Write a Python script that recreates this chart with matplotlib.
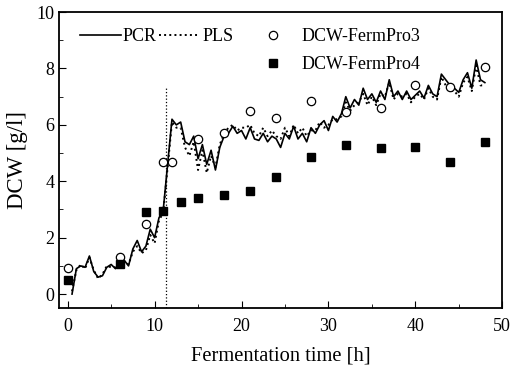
import numpy as np
import matplotlib
matplotlib.use("Agg")
import matplotlib.pyplot as plt
from matplotlib.ticker import MultipleLocator

# model predictions, sampled every 0.5 h
t_model = np.arange(0.5, 48.01, 0.5)
pcr = [0.0, 0.9, 1.0, 0.95, 1.35, 0.8, 0.6, 0.65, 0.95, 1.05,
       0.9, 1.1, 1.2, 1.0, 1.6, 1.9, 1.5, 1.7, 2.3, 2.0,
       2.7, 3.0, 4.6, 6.2, 6.0, 6.1, 5.4, 5.3, 5.6, 4.8,
       5.3, 4.6, 5.1, 4.4, 5.2, 5.6, 5.7, 5.95, 5.7, 5.8,
       5.5, 5.9, 5.5, 5.45, 5.7, 5.4, 5.6, 5.5, 5.2, 5.7,
       5.5, 5.95, 5.5, 5.7, 5.4, 5.9, 5.7, 6.0, 6.15, 5.8,
       6.3, 6.1, 6.4, 7.0, 6.6, 6.9, 6.7, 7.3, 6.9, 7.1,
       6.8, 7.2, 6.9, 7.6, 7.0, 7.2, 6.9, 7.2, 6.9, 7.05,
       7.2, 6.95, 7.4, 7.1, 7.0, 7.8, 7.6, 7.4, 7.3, 7.15,
       7.6, 7.85, 7.3, 8.3, 7.6, 7.5]
pls = [0.1, 0.85, 1.05, 0.9, 1.3, 0.85, 0.55, 0.7, 1.0, 0.95,
       0.95, 1.05, 1.15, 1.05, 1.5, 1.7, 1.45, 1.55, 2.1, 1.8,
       2.6, 2.9, 4.5, 6.1, 5.9, 5.9, 5.2, 4.9, 5.4, 4.4,
       5.1, 4.3, 4.9, 4.5, 5.3, 5.7, 5.9, 6.0, 5.8, 5.9,
       5.9, 6.0, 5.7, 5.6, 5.9, 5.6, 5.8, 5.6, 5.5, 5.9,
       5.6, 6.0, 5.7, 5.9, 5.6, 5.8, 5.8, 6.1, 5.9, 6.0,
       6.2, 6.2, 6.3, 6.8, 6.5, 6.7, 6.8, 7.1, 6.7, 7.0,
       6.7, 7.1, 7.0, 7.5, 6.9, 7.1, 7.0, 7.1, 6.8, 7.0,
       7.1, 6.9, 7.3, 7.0, 6.9, 7.7, 7.4, 7.2, 7.2, 7.0,
       7.5, 7.7, 7.2, 8.1, 7.4, 7.4]

# off-line measurements
t3 = [0, 6, 9, 11, 12, 15, 18, 21, 24, 28, 32, 36, 40, 44, 48]
dcw3 = [0.92, 1.3, 2.5, 4.7, 4.7, 5.5, 5.7, 6.5, 6.25, 6.85, 6.45, 6.6, 7.4, 7.35, 8.05]
t4 = [0, 6, 9, 11, 13, 15, 18, 21, 24, 28, 32, 36, 40, 44, 48]
dcw4 = [0.5, 1.08, 2.9, 2.95, 3.28, 3.4, 3.5, 3.65, 4.15, 4.87, 5.27, 5.17, 5.23, 4.7, 5.4]

t_switch = 11.3

plt.rcParams['font.family'] = ['Liberation Serif', 'DejaVu Serif']

fig = plt.figure(figsize=(5.13, 3.66), dpi=100)
ax = fig.add_axes([0.115, 0.158, 0.864, 0.809])

pcr_line, = ax.plot(t_model, pcr, 'k-', lw=1.2)
pls_line, = ax.plot(t_model, pls, 'k:', lw=1.4)
ax.plot([t_switch, t_switch], [-0.5, 7.3], 'k:', lw=0.9)
p3, = ax.plot(t3, dcw3, 'o', mfc='white', mec='black', ms=6, mew=0.9, ls='none')
p4, = ax.plot(t4, dcw4, 's', color='black', ms=6, ls='none')

ax.set_xlim(-1, 50)
ax.set_ylim(-0.5, 10)
ax.xaxis.set_major_locator(MultipleLocator(10))
ax.xaxis.set_minor_locator(MultipleLocator(5))
ax.yaxis.set_major_locator(MultipleLocator(2))
ax.yaxis.set_minor_locator(MultipleLocator(1))
ax.tick_params(which='both', direction='in', top=False, right=False, labelsize=13)
ax.tick_params(which='major', length=5)
ax.tick_params(which='minor', length=3)
ax.tick_params(axis='x', which='major', pad=7)
for s in ax.spines.values():
    s.set_linewidth(1.3)

ax.set_xlabel("Fermentation time [h]", fontsize=14.8, labelpad=8)
ax.set_ylabel("DCW [g/l]", fontsize=16.5, labelpad=6)

leg1 = ax.legend([pcr_line, pls_line], ["PCR", "PLS"], loc='upper left', ncol=2,
                 frameon=False, fontsize=13, handlelength=2.3, handletextpad=0.1,
                 columnspacing=0.1, bbox_to_anchor=(0.01, 1.0))
ax.add_artist(leg1)
ax.legend([p3, p4], ["DCW-FermPro3", "DCW-FermPro4"], loc='upper left',
          frameon=False, fontsize=13, handletextpad=0.6, labelspacing=0.6,
          bbox_to_anchor=(0.405, 1.0))

fig.savefig("out.png", dpi=100)
